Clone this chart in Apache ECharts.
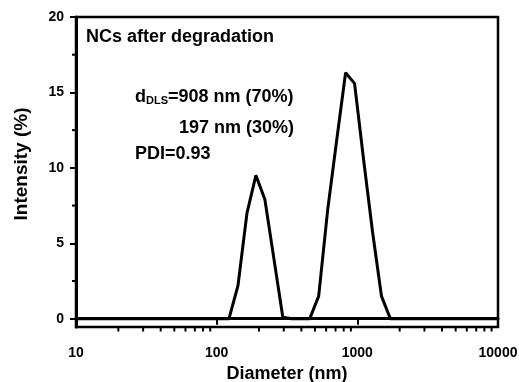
<!DOCTYPE html>
<html>
<head>
<meta charset="utf-8">
<script src="https://cdn.jsdelivr.net/npm/echarts@6/dist/echarts.min.js"></script>
<style>
html,body{margin:0;padding:0;background:#fff;}
#c{width:519px;height:382px;}
</style>
</head>
<body>
<div id="c"></div>
<script>
// Data
var diameters = [10, 122.4, 141.8, 164.2, 190.1, 220.2, 255.0, 295.3, 342.0, 396.1, 458.7, 531.2, 615.1, 712.4, 825.0, 955.4, 1106, 1281, 1484, 1718, 10000];
var intensity = [0, 0, 2.2, 7.0, 9.5, 7.9, 4.0, 0.1, 0, 0, 0, 1.5, 7.2, 11.8, 16.3, 15.6, 10.6, 5.8, 1.5, 0, 0];
var yTickValues = [0, 5, 10, 15, 20];
var yMinorValues = [2.5, 7.5, 12.5, 17.5];
var xMinorValues = [20, 30, 40, 50, 60, 70, 80, 90, 200, 300, 400, 500, 600, 700, 800, 900, 2000, 3000, 4000, 5000, 6000, 7000, 8000, 9000];
var xTitle = 'Diameter (nm)';
var yTitle = 'Intensity (%)';
var sampleLabel = 'NCs after degradation';
var annot1 = '908 nm (70%)';
var annot2 = '197 nm (30%)';
var annot3 = 'PDI=0.93';

var Y_MIN = -0.55, Y_MAX = 20;
var FONT = 'Liberation Sans, Arial, sans-serif';

var chart = echarts.init(document.getElementById('c'), null, {renderer: 'canvas'});
var lineData = diameters.map(function (d, i) { return [d, intensity[i]]; });

chart.setOption({
  animation: false,
  backgroundColor: '#fff',
  grid: {left: 76, right: 21, top: 17, bottom: 55, containLabel: false, outerBoundsMode: 'none',
    show: true, borderColor: '#000', borderWidth: 2.5, backgroundColor: 'transparent'},
  xAxis: {
    type: 'log', logBase: 10, min: 10, max: 10000,
    name: xTitle, nameLocation: 'middle', nameGap: 37,
    nameTextStyle: {fontFamily: FONT, fontWeight: 'bold', fontSize: 18, color: '#000'},
    axisLine: {show: true, lineStyle: {color: '#000', width: 3}},
    axisTick: {show: true, inside: false, length: 6, lineStyle: {color: '#000', width: 2}},
    axisLabel: {fontFamily: FONT, fontWeight: 'bold', fontSize: 14, color: '#000', margin: 19,
      formatter: function (v) { return String(Math.round(v)); }},
    splitLine: {show: false},
    minorTick: {show: false}
  },
  yAxis: {
    type: 'value', min: Y_MIN, max: Y_MAX,
    name: yTitle, nameLocation: 'middle', nameGap: 45, nameRotate: 90,
    nameTextStyle: {fontFamily: FONT, fontWeight: 'bold', fontSize: 19, color: '#000', padding: [0, 0, 0, 16]},
    axisLine: {show: true, lineStyle: {color: '#000', width: 3}},
    axisTick: {show: true, inside: false, length: 6, customValues: yTickValues, lineStyle: {color: '#000', width: 2}},
    axisLabel: {fontFamily: FONT, fontWeight: 'bold', fontSize: 14, color: '#000', margin: 12, customValues: yTickValues},
    splitLine: {show: false}
  },
  series: [
    {
      type: 'line', data: lineData, symbol: 'none', clip: false,
      lineStyle: {color: '#000', width: 3}
    },
    {
      type: 'custom', clip: false, silent: true,
      data: xMinorValues.map(function (v) { return [v, Y_MIN]; }),
      renderItem: function (params, api) {
        var p = api.coord([api.value(0), api.value(1)]);
        return {type: 'line', shape: {x1: p[0], y1: p[1], x2: p[0], y2: p[1] + 4.5}, style: {stroke: '#000', lineWidth: 2}};
      }
    },
    {
      type: 'custom', clip: false, silent: true,
      data: yMinorValues.map(function (v) { return [10, v]; }),
      renderItem: function (params, api) {
        var p = api.coord([api.value(0), api.value(1)]);
        return {type: 'line', shape: {x1: p[0], y1: p[1], x2: p[0] - 4, y2: p[1]}, style: {stroke: '#000', lineWidth: 2}};
      }
    }
  ],
  graphic: [
    {type: 'text', left: 86, top: 28, style: {text: sampleLabel, fontFamily: FONT, fontWeight: 'bold', fontSize: 18, fill: '#000'}},
    {type: 'text', left: 135, top: 88, style: {
      text: '{d|d}{s|DLS}{d|=' + annot1 + '}',
      rich: {
        d: {fontFamily: FONT, fontWeight: 'bold', fontSize: 18, color: '#000', verticalAlign: 'bottom'},
        s: {fontFamily: FONT, fontWeight: 'bold', fontSize: 11, color: '#000', padding: [9, 0, 0, 0], verticalAlign: 'bottom'}
      }
    }},
    {type: 'text', left: 179, top: 119, style: {text: annot2, fontFamily: FONT, fontWeight: 'bold', fontSize: 18, fill: '#000'}},
    {type: 'text', left: 135, top: 145, style: {text: annot3, fontFamily: FONT, fontWeight: 'bold', fontSize: 18, fill: '#000'}}
  ]
});
</script>
</body>
</html>
